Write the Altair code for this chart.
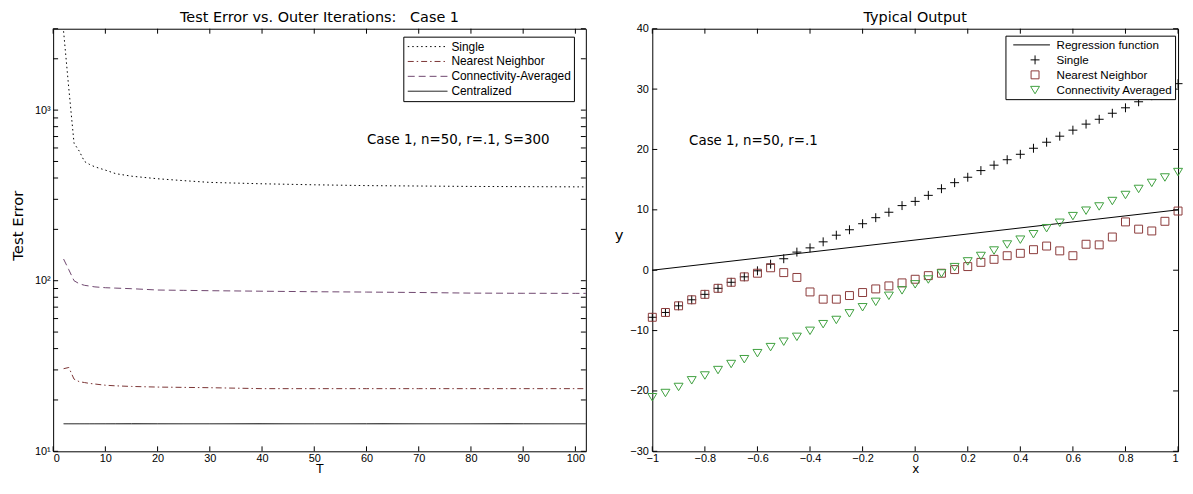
import altair as alt
import pandas as pd

# ---------------- Left panel: Test Error vs. Outer Iterations ----------------
T_iter = [2, 3, 4, 5, 6, 7, 8, 10, 12, 15, 20, 25, 30, 40, 50, 60, 70, 80, 90, 100, 102]
err_single = [2900, 1340, 640, 575, 500, 480, 465, 445, 424, 410, 396, 386, 377, 370, 365, 361, 359, 357, 356, 355, 355]
err_nearest = [30.5, 31.0, 26.5, 25.6, 25.3, 25.0, 24.8, 24.4, 24.2, 24.0, 23.8, 23.7, 23.6, 23.3, 23.3, 23.3, 23.3, 23.3, 23.3, 23.3, 23.3]
err_conn = [134, 116, 100, 96, 94, 93, 92, 91, 90.5, 89.8, 88.2, 87.8, 87.4, 86.8, 86.2, 85.8, 85.3, 84.6, 84.4, 84.3, 84.3]
err_central = [14.5, 14.5, 14.5, 14.5, 14.5, 14.5, 14.5, 14.5, 14.5, 14.5, 14.5,
               14.5, 14.5, 14.5, 14.5, 14.5, 14.5, 14.5, 14.5, 14.5, 14.5]

left_series = ["Single", "Nearest Neighbor", "Connectivity-Averaged", "Centralized"]
left_colors = ["#000000", "#7a3434", "#6e466e", "#000000"]
left_dash = [[1.5, 3], [6, 3, 1.5, 3], [7, 4], [1, 0]]

left_x_ticks = [0, 10, 20, 30, 40, 50, 60, 70, 80, 90, 100]
left_y_major = [10, 100, 1000]
left_y_all = [10, 20, 30, 40, 50, 60, 70, 80, 90, 100, 200, 300, 400, 500, 600,
              700, 800, 900, 1000, 2000, 3000]
left_note = ["Case 1, n=50, r=.1, S=300"]
left_note_T = [60.1]
left_note_err = [667]

# ---------------- Right panel: Typical Output ----------------
x_pts = [-1.0, -0.95, -0.9, -0.85, -0.8, -0.75, -0.7, -0.65, -0.6, -0.55, -0.5,
         -0.45, -0.4, -0.35, -0.3, -0.25, -0.2, -0.15, -0.1, -0.05, 0.0,
         0.05, 0.1, 0.15, 0.2, 0.25, 0.3, 0.35, 0.4, 0.45, 0.5,
         0.55, 0.6, 0.65, 0.7, 0.75, 0.8, 0.85, 0.9, 0.95, 1.0]
y_single = [-7.8, -7.0, -5.9, -4.9, -4.0, -3.0, -2.0, -1.1, -0.1, 1.0, 1.9,
            3.0, 3.7, 4.7, 5.8, 6.7, 7.7, 8.7, 9.6, 10.7, 11.4,
            12.4, 13.5, 14.5, 15.4, 16.5, 17.4, 18.3, 19.2, 20.2, 21.2,
            22.2, 23.2, 24.2, 25.0, 26.0, 26.9, 27.9, 28.9, 29.9, 30.9]
y_nearest = [-7.8, -7.0, -5.9, -4.9, -4.0, -3.0, -2.0, -1.1, -0.5, 0.4, -0.4,
             -1.2, -3.6, -4.8, -4.8, -4.2, -3.7, -3.1, -2.6, -2.1, -1.5,
             -0.9, -0.5, 0.1, 0.6, 1.3, 1.8, 2.4, 2.8, 3.4, 4.0,
             3.2, 2.4, 4.3, 4.2, 5.5, 8.0, 6.8, 6.5, 8.1, 9.8]
y_conn = [-21.0, -20.3, -19.3, -18.2, -17.4, -16.5, -15.5, -14.7, -13.7, -12.7, -11.8,
          -11.0, -10.0, -8.9, -8.2, -7.1, -6.1, -5.2, -4.2, -3.3, -2.3,
          -1.5, -0.5, 0.55, 1.5, 2.4, 3.3, 4.3, 5.1, 6.0, 7.0,
          7.9, 9.0, 9.9, 10.6, 11.5, 12.5, 13.5, 14.5, 15.4, 16.3]
reg_x = [-1.0, 1.0]
reg_y = [0.0, 10.0]

right_series = ["Regression function", "Single", "Nearest Neighbor", "Connectivity Averaged"]
right_colors = ["#000000", "#000000", "#8b3a3a", "#3fa03f"]
right_shapes = ["M-4.4,0H3", "M-0.9,0H0.9M0,-0.9V0.9",
                "M-0.8,-0.8H0.8V0.8H-0.8Z", "M-0.9,-0.7H0.9L0,0.8Z"]

right_x_ticks = [-1, -0.8, -0.6, -0.4, -0.2, 0, 0.2, 0.4, 0.6, 0.8, 1]
right_y_ticks = [-30, -20, -10, 0, 10, 20, 30, 40]
right_note = ["Case 1, n=50, r=.1"]
right_note_x = [-0.86]
right_note_y = [21.4]

W1, W2, H = 537, 530, 426
TICK = 5

# ---------------- build data frames ----------------
rows = []
for name, vals in zip(left_series, [err_single, err_nearest, err_conn, err_central]):
    for t, v in zip(T_iter, vals):
        rows.append({"T": t, "err": v, "series": name})
df_left = pd.DataFrame(rows)
df_left_note = pd.DataFrame({"T": left_note_T, "err": left_note_err, "label": left_note})
df_lx = pd.DataFrame({"T": left_x_ticks})
df_ly = pd.DataFrame({"err": left_y_all})

rows = []
for name, vals in zip(right_series[1:], [y_single, y_nearest, y_conn]):
    for xv, yv in zip(x_pts, vals):
        rows.append({"x": xv, "y": yv, "method": name})
df_right = pd.DataFrame(rows)
df_reg = pd.DataFrame({"x": reg_x, "y": reg_y})
df_right_note = pd.DataFrame({"x": right_note_x, "y": right_note_y, "label": right_note})
df_rx = pd.DataFrame({"x": right_x_ticks})
df_ry = pd.DataFrame({"y": right_y_ticks})


def inward_ticks(dfx, dfy, xf, yf, sx, sy, axx, axy, w, h):
    """Box ticks pointing inward on all four sides (MATLAB style)."""
    xb = alt.Chart(dfx).mark_rule(color="black", strokeWidth=1).encode(
        x=alt.X(xf, scale=sx, axis=axx), y=alt.value(h), y2=alt.value(h - TICK))
    xt = alt.Chart(dfx).mark_rule(color="black", strokeWidth=1).encode(
        x=alt.X(xf, scale=sx, axis=axx), y=alt.value(0), y2=alt.value(TICK))
    yl = alt.Chart(dfy).mark_rule(color="black", strokeWidth=1).encode(
        y=alt.Y(yf, scale=sy, axis=axy), x=alt.value(0), x2=alt.value(TICK))
    yr = alt.Chart(dfy).mark_rule(color="black", strokeWidth=1).encode(
        y=alt.Y(yf, scale=sy, axis=axy), x=alt.value(w), x2=alt.value(w - TICK))
    return [xb, xt, yl, yr]


# ---------------- left chart ----------------
sxL = alt.Scale(domain=[0, 102], nice=False, zero=False)
syL = alt.Scale(type="log", domain=[10, 3000], nice=False)

axL_x = alt.Axis(values=left_x_ticks, ticks=False, domain=False, grid=False,
                 labelPadding=1, format="d", title="T", titlePadding=0, titleFontSize=12)
axL_y = alt.Axis(values=left_y_major, ticks=False, domain=False, grid=False, labelPadding=3,
                 labelExpr="datum.value == 10 ? '10¹' : datum.value == 100 ? '10²' : '10³'",
                 title="Test Error", titleX=-36.3, titleY=198,
                 titleBaseline="middle", titleAngle=270)

legL = alt.Legend(title=None, orient="none", legendX=353, legendY=8,
                  strokeColor="black", fillColor="white", padding=2.5,
                  symbolType="stroke", symbolSize=1600, symbolStrokeWidth=1,
                  symbolOffset=1.5, labelOffset=3.5, clipHeight=15, rowPadding=0,
                  labelFont="Liberation Sans", labelFontSize=12, labelColor="black")

lines = alt.Chart(df_left).mark_line(strokeWidth=1).encode(
    x=alt.X("T:Q", scale=sxL, axis=axL_x),
    y=alt.Y("err:Q", scale=syL, axis=axL_y),
    color=alt.Color("series:N", scale=alt.Scale(domain=left_series, range=left_colors), legend=legL),
    strokeDash=alt.StrokeDash("series:N", scale=alt.Scale(domain=left_series, range=left_dash), legend=legL),
)

noteL = alt.Chart(df_left_note).mark_text(align="left", baseline="middle",
                                          font="DejaVu Sans", fontSize=13.5, color="black").encode(
    x=alt.X("T:Q", scale=sxL, axis=axL_x),
    y=alt.Y("err:Q", scale=syL, axis=axL_y),
    text="label:N",
)

left = alt.layer(
    lines, *inward_ticks(df_lx, df_ly, "T:Q", "err:Q", sxL, syL, axL_x, axL_y, W1, H), noteL
).properties(
    width=W1, height=H,
    title=alt.TitleParams("Test Error vs. Outer Iterations:\u00a0\u00a0 Case 1",
                          font="DejaVu Sans", fontSize=14.5, fontWeight="normal",
                          color="black", frame="group", anchor="middle", offset=2.5),
)

# ---------------- right chart ----------------
sxR = alt.Scale(domain=[-1, 1], nice=False, zero=False)
syR = alt.Scale(domain=[-30, 40], nice=False, zero=False)

axR_x = alt.Axis(values=right_x_ticks, ticks=False, domain=False, grid=False,
                 labelPadding=1, format=".1~f", title="x", titlePadding=0, titleFontSize=12,
                 labelAlign={"condition": {"test": "datum.value >= 1", "value": "right"},
                             "value": "center"})
axR_y = alt.Axis(values=right_y_ticks, ticks=False, domain=False, grid=False,
                 labelPadding=4, format="d", title="y", titleAngle=0,
                 titleX=-34, titleY=207, titleAlign="center", titleBaseline="middle")

legR = alt.Legend(title=None, orient="none", legendX=356, legendY=7,
                  strokeColor="black", fillColor="white", padding=2.5,
                  symbolSize=100, symbolStrokeWidth=1, symbolOffset=21.5,
                  labelOffset=15.8, clipHeight=13.6, rowPadding=1.1,
                  labelFont="Liberation Sans", labelFontSize=11.7, labelColor="black")

reg = alt.Chart(df_reg).mark_line(strokeWidth=1, color="black").encode(
    x=alt.X("x:Q", scale=sxR, axis=axR_x),
    y=alt.Y("y:Q", scale=syR, axis=axR_y),
)
pts = alt.Chart(df_right).mark_point(filled=False, strokeWidth=1, size=100, opacity=1).encode(
    x=alt.X("x:Q", scale=sxR, axis=axR_x),
    y=alt.Y("y:Q", scale=syR, axis=axR_y),
    shape=alt.Shape("method:N", scale=alt.Scale(domain=right_series, range=right_shapes), legend=legR),
    color=alt.Color("method:N", scale=alt.Scale(domain=right_series, range=right_colors), legend=legR),
)
noteR = alt.Chart(df_right_note).mark_text(align="left", baseline="middle",
                                           font="DejaVu Sans", fontSize=13.5, color="black").encode(
    x=alt.X("x:Q", scale=sxR, axis=axR_x),
    y=alt.Y("y:Q", scale=syR, axis=axR_y),
    text="label:N",
)

right = alt.layer(
    reg, pts, *inward_ticks(df_rx, df_ry, "x:Q", "y:Q", sxR, syR, axR_x, axR_y, W2, H), noteR
).properties(
    width=W2, height=H,
    title=alt.TitleParams("Typical Output", font="DejaVu Sans", fontSize=14.5,
                          fontWeight="normal", color="black", frame="group",
                          anchor="middle", offset=-3),
)

chart = alt.hconcat(left, right, spacing=25).resolve_scale(
    color="independent", strokeDash="independent", shape="independent"
).resolve_legend(
    color="independent", strokeDash="independent", shape="independent"
).properties(
    padding={"left": 1.5, "top": 0, "right": 0, "bottom": 0},
    background="white",
).configure_view(
    stroke="black", strokeWidth=1
).configure_axis(
    labelFont="Liberation Sans", labelFontSize=11, labelColor="black",
    titleFont="DejaVu Sans", titleFontSize=15, titleFontWeight="normal", titleColor="black",
)

chart.save("out.html", embed_options={"renderer": "svg", "actions": False})
